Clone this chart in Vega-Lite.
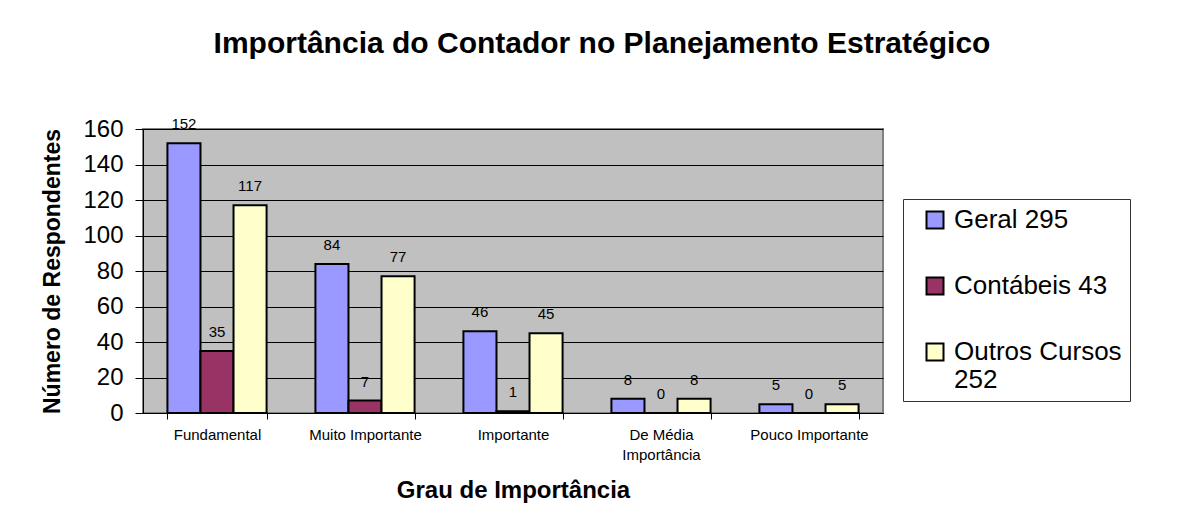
{
  "$schema": "https://vega.github.io/schema/vega-lite/v6.json",
  "autosize": {"type": "none"},
  "width": 740,
  "height": 284,
  "padding": {"left": 143, "top": 129, "right": 300, "bottom": 119},
  "background": "white",
  "title": {
    "text": "Importância do Contador no Planejamento Estratégico",
    "anchor": "middle",
    "frame": "group",
    "dx": 89,
    "offset": 34,
    "baseline": "alphabetic",
    "font": "Liberation Sans",
    "fontSize": 30,
    "fontWeight": "bold",
    "color": "black"
  },
  "data": {
    "values": [
      {"grau": "Fundamental", "serie": "Geral 295", "valor": 152},
      {"grau": "Fundamental", "serie": "Contábeis 43", "valor": 35},
      {"grau": "Fundamental", "serie": "Outros Cursos 252", "valor": 117},
      {"grau": "Muito Importante", "serie": "Geral 295", "valor": 84},
      {"grau": "Muito Importante", "serie": "Contábeis 43", "valor": 7},
      {"grau": "Muito Importante", "serie": "Outros Cursos 252", "valor": 77},
      {"grau": "Importante", "serie": "Geral 295", "valor": 46},
      {"grau": "Importante", "serie": "Contábeis 43", "valor": 1},
      {"grau": "Importante", "serie": "Outros Cursos 252", "valor": 45},
      {"grau": "De Média Importância", "serie": "Geral 295", "valor": 8},
      {"grau": "De Média Importância", "serie": "Contábeis 43", "valor": 0},
      {"grau": "De Média Importância", "serie": "Outros Cursos 252", "valor": 8},
      {"grau": "Pouco Importante", "serie": "Geral 295", "valor": 5},
      {"grau": "Pouco Importante", "serie": "Contábeis 43", "valor": 0},
      {"grau": "Pouco Importante", "serie": "Outros Cursos 252", "valor": 5}
    ]
  },
  "encoding": {
    "x": {
      "field": "grau",
      "type": "nominal",
      "sort": ["Fundamental", "Muito Importante", "Importante", "De Média Importância", "Pouco Importante"],
      "scale": {"paddingInner": 0.33, "paddingOuter": 0.165},
      "axis": {
        "title": "Grau de Importância",
        "labelAngle": 0,
        "labelFont": "Liberation Sans",
        "labelFontSize": 15,
        "labelColor": "black",
        "labelPadding": 8,
        "labelExpr": "datum.label == 'De Média Importância' ? ['De Média', 'Importância'] : datum.label",
        "labelLineHeight": 20,
        "tickBand": "extent",
        "tickColor": "black",
        "tickSize": 6,
        "domainColor": "black",
        "domainWidth": 1,
        "titleFont": "Liberation Sans",
        "titleFontSize": 24,
        "titleFontWeight": "bold",
        "titleColor": "black",
        "titlePadding": 16
      }
    },
    "xOffset": {
      "field": "serie",
      "type": "nominal",
      "sort": ["Geral 295", "Contábeis 43", "Outros Cursos 252"],
      "scale": {"paddingInner": 0, "paddingOuter": 0}
    },
    "y": {
      "field": "valor",
      "type": "quantitative",
      "scale": {"domain": [0, 160], "nice": false},
      "axis": {
        "title": "Número de Respondentes",
        "values": [0, 20, 40, 60, 80, 100, 120, 140, 160],
        "labelFont": "Liberation Sans",
        "labelFontSize": 24,
        "labelColor": "black",
        "labelPadding": 12,
        "tickColor": "black",
        "tickSize": 8,
        "domainColor": "black",
        "grid": true,
        "gridColor": "black",
        "gridWidth": 1,
        "gridOpacity": 1,
        "titleFont": "Liberation Sans",
        "titleFontSize": 23,
        "titleFontWeight": "bold",
        "titleColor": "black",
        "titlePadding": 18
      }
    }
  },
  "layer": [
    {
      "mark": {"type": "bar", "stroke": "black", "strokeWidth": 2},
      "encoding": {
        "color": {
          "field": "serie",
          "type": "nominal",
          "scale": {
            "domain": ["Geral 295", "Contábeis 43", "Outros Cursos 252"],
            "range": ["#9999FF", "#993366", "#FFFFCC"]
          },
          "legend": {
            "title": null,
            "orient": "none",
            "legendX": 760,
            "legendY": 70,
            "direction": "vertical",
            "strokeColor": "#333333",
            "fillColor": "white",
            "padding": 8,
            "symbolType": "square",
            "symbolSize": 289,
            "symbolOffset": 11,
            "symbolStrokeColor": "black",
            "symbolStrokeWidth": 2,
            "symbolOpacity": 1,
            "labelFont": "Liberation Sans",
            "labelFontSize": 26,
            "labelColor": "black",
            "labelOffset": 6,
            "labelLimit": 300,
            "rowPadding": 40,
            "labelExpr": "datum.label == 'Outros Cursos 252' ? ['Outros Cursos', '252'] : datum.label"
          }
        }
      }
    },
    {
      "mark": {"type": "text", "baseline": "middle", "dy": -19, "font": "Liberation Sans", "fontSize": 15, "color": "black"},
      "encoding": {"text": {"field": "valor", "type": "quantitative"}}
    }
  ],
  "config": {
    "view": {"fill": "#C0C0C0", "stroke": "#808080", "strokeWidth": 2}
  }
}
